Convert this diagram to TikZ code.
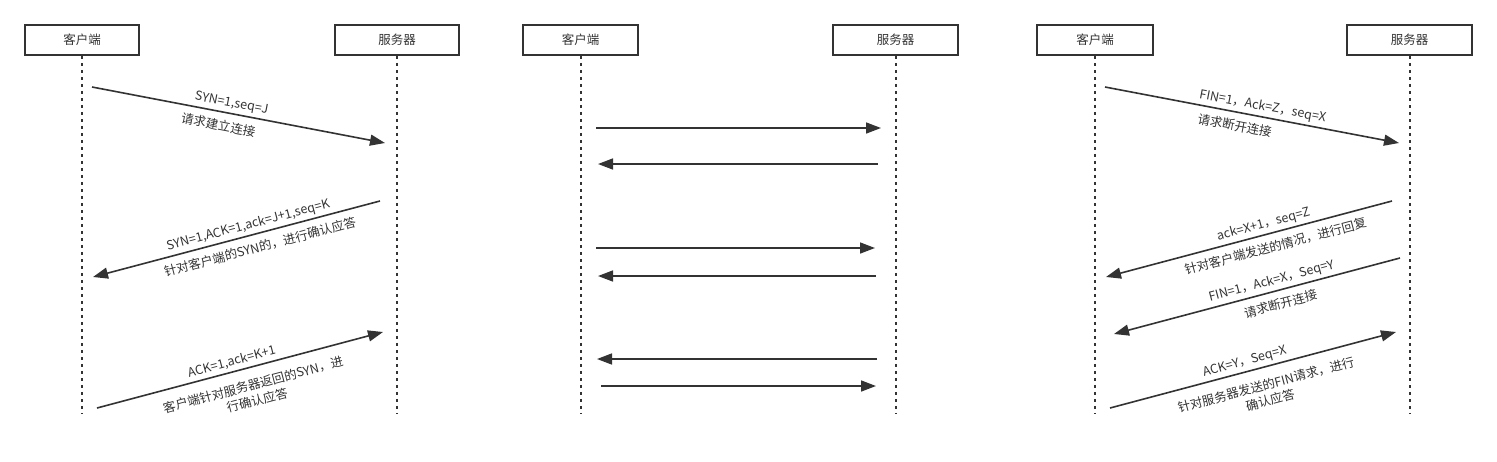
\documentclass[tikz,border=0pt]{standalone}
\usepackage{fontspec}
\setmainfont{Noto Sans CJK SC}
\usetikzlibrary{arrows.meta}
\definecolor{ink}{HTML}{333333}

\begin{document}
\begin{tikzpicture}[x=1pt,y=-1pt,>={Triangle[length=15pt,width=11pt]},
    party/.style={draw=ink,line width=1.8pt,minimum height=30pt,text=ink,font=\fontsize{12.5}{15}\selectfont},
    life/.style={draw=ink,line width=2pt,dash pattern=on 3pt off 4pt},
    msg/.style={->,draw=ink,line width=1.6pt},
    lbl/.style={sloped,text=ink,inner sep=3pt,align=center,font=\fontsize{12.5}{16}\selectfont}]
  \useasboundingbox (0,0) rectangle (1497,461);

  % handshake
  \node (C1) [party,minimum width=114pt] at (82,40) {客户端};
  \node (S1) [party,minimum width=124pt] at (397,40) {服务器};
  \coordinate (C1e) at (82,414);
  \coordinate (S1e) at (397,414);
  \draw[life] (C1) -- (C1e);
  \draw[life] (S1) -- (S1e);
  \coordinate (a1) at (92,87);   \coordinate (a2) at (385,143);
  \coordinate (b1) at (380,201); \coordinate (b2) at (93,277);
  \coordinate (d1) at (97,408);  \coordinate (d2) at (383,332);
  \draw[msg] (a1) -- node[lbl,above,pos=.47] {SYN=1,seq=J} node[lbl,below=4pt,pos=.44] {请求建立连接} (a2);
  \draw[msg] (b1) -- node[lbl,above,pos=.45] {SYN=1,ACK=1,ack=J+1,seq=K} node[lbl,below=4pt,pos=.43] {针对客户端的SYN的，进行确认应答} (b2);
  \draw[msg] (d1) -- node[lbl,above,pos=.48] {ACK=1,ack=K+1} node[lbl,below=8pt,pos=.53] {客户端针对服务器返回的SYN，进\\行确认应答} (d2);

  % plain exchange
  \node (C2) [party,minimum width=115pt] at (580.5,40) {客户端};
  \node (S2) [party,minimum width=125pt] at (895.5,40) {服务器};
  \coordinate (C2e) at (580.5,414);
  \coordinate (S2e) at (895.5,414);
  \draw[life] (C2) -- (C2e);
  \draw[life] (S2) -- (S2e);
  \coordinate (e1) at (596,128); \coordinate (e2) at (881,128);
  \coordinate (f1) at (878,164); \coordinate (f2) at (598,164);
  \coordinate (g1) at (596,248); \coordinate (g2) at (875,248);
  \coordinate (h1) at (876,276); \coordinate (h2) at (598,276);
  \coordinate (k1) at (877,359); \coordinate (k2) at (597,359);
  \coordinate (m1) at (601,386); \coordinate (m2) at (876,386);
  \draw[msg] (e1) -- (e2);
  \draw[msg] (f1) -- (f2);
  \draw[msg] (g1) -- (g2);
  \draw[msg] (h1) -- (h2);
  \draw[msg] (k1) -- (k2);
  \draw[msg] (m1) -- (m2);

  % teardown
  \node (C3) [party,minimum width=116pt] at (1095,40) {客户端};
  \node (S3) [party,minimum width=125pt] at (1409.5,40) {服务器};
  \coordinate (C3e) at (1095,414);
  \coordinate (S3e) at (1409.5,414);
  \draw[life] (C3) -- (C3e);
  \draw[life] (S3) -- (S3e);
  \coordinate (n1) at (1105,87);  \coordinate (n2) at (1399,143);
  \coordinate (p1) at (1392,201); \coordinate (p2) at (1106,277);
  \coordinate (q1) at (1400,258); \coordinate (q2) at (1114,334);
  \coordinate (r1) at (1110,408); \coordinate (r2) at (1396,332);
  \draw[msg] (n1) -- node[lbl,above,pos=.53] {FIN=1，Ack=Z，seq=X} node[lbl,below=4pt,pos=.45] {请求断开连接} (n2);
  \draw[msg] (p1) -- node[lbl,above,pos=.44] {ack=X+1，seq=Z} node[lbl,below=4pt,pos=.42] {针对客户端发送的情况，进行回复} (p2);
  \draw[msg] (q1) -- node[lbl,above,pos=.44] {FIN=1，Ack=X，Seq=Y} node[lbl,below=4pt,pos=.43] {请求断开连接} (q2);
  \draw[msg] (r1) -- node[lbl,above,pos=.48] {ACK=Y，Seq=X} node[lbl,below=8pt,pos=.53] {针对服务器发送的FIN请求，进行\\确认应答} (r2);
\end{tikzpicture}
\end{document}
